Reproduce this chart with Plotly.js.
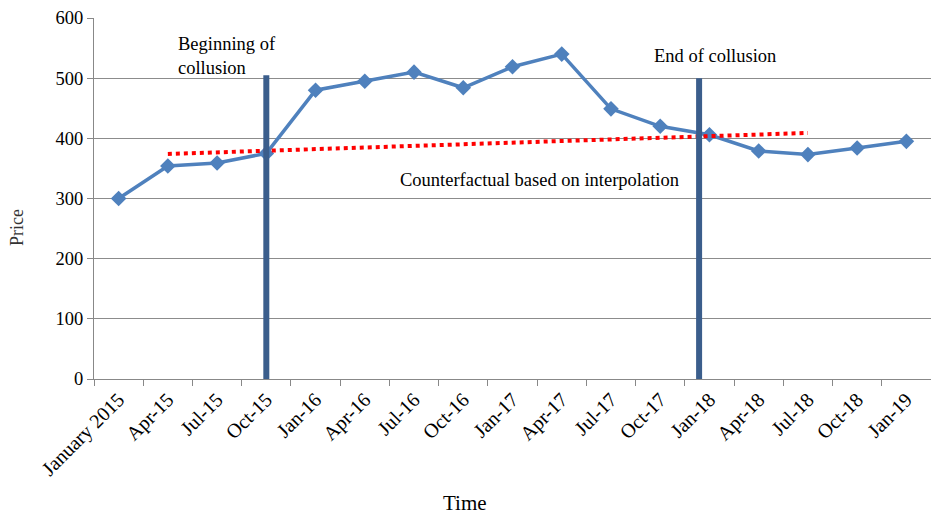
<!DOCTYPE html>
<html><head><meta charset="utf-8">
<script src="https://cdn.plot.ly/plotly-3.0.1.min.js"></script>
<style>html,body{margin:0;padding:0;background:#fff}#c{width:931px;height:515px}</style>
</head><body><div id="c"></div>
<script>
const categories = ["January 2015","Apr-15","Jul-15","Oct-15","Jan-16","Apr-16","Jul-16","Oct-16","Jan-17","Apr-17","Jul-17","Oct-17","Jan-18","Apr-18","Jul-18","Oct-18","Jan-19"];
const prices = [300,354,359,375,480,495,510,484,519,540,449,420,406,379,373,384,395];
const counterfactualX = [1, 14];
const counterfactualY = [374, 409];
const beginX = [3, 3];
const beginY = [0, 505];
const endX = [11.79, 11.79];
const endY = [-8, 500];
const idx = categories.map((c,i)=>i);
const boundaries = categories.map((c,i)=>i-0.5).concat([categories.length-0.5]);

const serif = "Liberation Serif, Times New Roman, serif";
const traces = [
  {x: idx, y: prices, type:'scatter', mode:'lines+markers',
   line:{color:'#4F81BD', width:3.5}, marker:{symbol:'diamond', size:12, color:'#4F81BD'}, hoverinfo:'skip'},
  {x: counterfactualX, y: counterfactualY, type:'scatter', mode:'lines',
   line:{color:'#FF0000', width:4, dash:'dot'}, hoverinfo:'skip'},
  {x: beginX, y: beginY, type:'scatter', mode:'lines', line:{color:'#3B5E8C', width:6}, hoverinfo:'skip'},
  {x: endX, y: endY, type:'scatter', mode:'lines', line:{color:'#3B5E8C', width:6}, hoverinfo:'skip', cliponaxis:false}
];
const layout = {
  width:931, height:515, showlegend:false,
  margin:{l:94, r:0, t:18, b:136},
  paper_bgcolor:'#fff', plot_bgcolor:'#fff',
  font:{family:serif, color:'#000'},
  xaxis:{type:'linear', range:[-0.5, 16.5], tickmode:'array', tickvals:idx, ticktext:categories,
    tickangle:-45, ticks:'', showgrid:false, zeroline:false,
    showline:true, linecolor:'#888', linewidth:1, tickfont:{family:serif, size:20, color:'#000'},
    minor:{tickmode:'array', tickvals:boundaries, ticks:'outside', ticklen:6, tickcolor:'#888', showgrid:false}},
  yaxis:{range:[0,600], tickvals:[0,100,200,300,400,500,600], ticks:'outside', ticklen:6, tickcolor:'#888',
    showgrid:true, gridcolor:'#8c8c8c', gridwidth:1, zeroline:false, showline:true, linecolor:'#888', linewidth:1,
    tickfont:{family:serif, size:18.5, color:'#000'}},
  annotations:[
    {x:2.2, y:537, xref:'x', yref:'y', text:'Beginning of<br>collusion', showarrow:false, align:'left',
     font:{family:serif, size:18.5, color:'#000'}},
    {x:12.12, y:537, xref:'x', yref:'y', text:'End of collusion', showarrow:false,
     font:{family:serif, size:18.5, color:'#000'}},
    {x:8.55, y:331, xref:'x', yref:'y', text:'Counterfactual based on interpolation', showarrow:false,
     font:{family:serif, size:18.5, color:'#000'}},
    {x:0, y:0, xref:'paper', yref:'paper', xanchor:'center', yanchor:'middle', text:'Price', showarrow:false, textangle:-90,
     font:{family:serif, size:18, color:'#333'}},
    {x:0, y:0, xref:'paper', yref:'paper', text:'Time', showarrow:false, yanchor:'middle',
     font:{family:serif, size:21, color:'#000'}}
  ]
};
layout.annotations[3].x = (17-94)/(931-94);
layout.annotations[3].y = (379-228)/(379-18);
layout.annotations[4].x = (465-94)/(931-94);
layout.annotations[4].y = (379-503)/(379-18);
Plotly.newPlot('c', traces, layout, {displayModeBar:false, staticPlot:true});
</script></body></html>
